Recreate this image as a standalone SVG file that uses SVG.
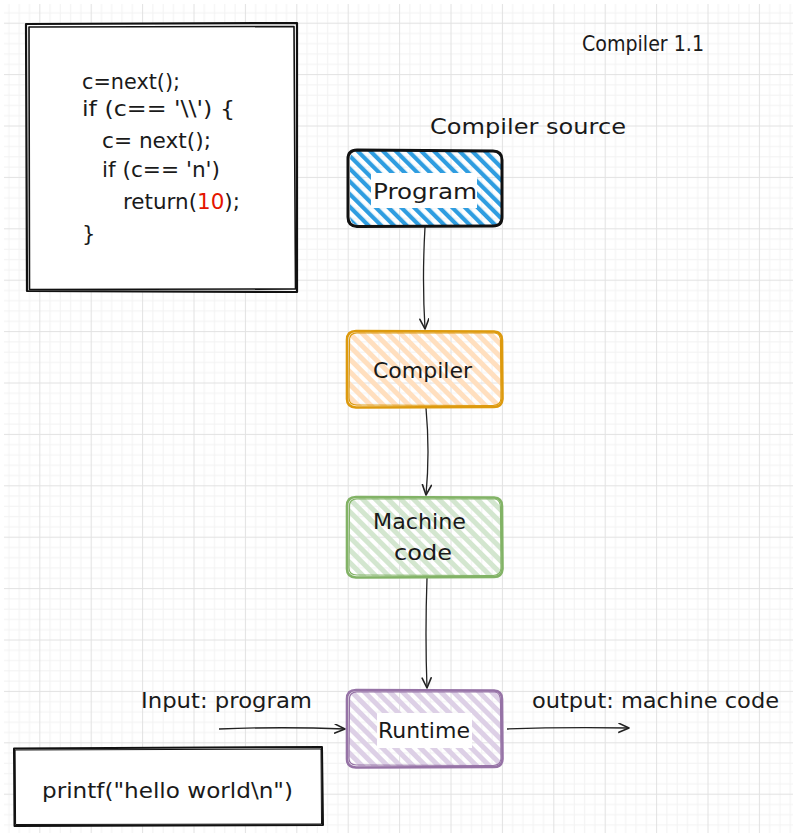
<svg xmlns="http://www.w3.org/2000/svg" width="793" height="838" viewBox="0 0 793 838">
<defs>
  <pattern id="grid" patternUnits="userSpaceOnUse" x="39.3" y="22.7" width="51.4" height="51.4">
    <rect x="0" y="0" width="51.4" height="51.4" fill="#ffffff"/>
    <g fill="#f3f3f3">
      <rect x="10.28" y="0" width="1" height="51.4"/>
      <rect x="20.56" y="0" width="1" height="51.4"/>
      <rect x="30.84" y="0" width="1" height="51.4"/>
      <rect x="41.12" y="0" width="1" height="51.4"/>
      <rect x="0" y="10.28" width="51.4" height="1"/>
      <rect x="0" y="20.56" width="51.4" height="1"/>
      <rect x="0" y="30.84" width="51.4" height="1"/>
      <rect x="0" y="41.12" width="51.4" height="1"/>
    </g>
    <g fill="#e2e2e2">
      <rect x="0" y="0" width="1" height="51.4"/>
      <rect x="0" y="0" width="51.4" height="1"/>
    </g>
  </pattern>
  <pattern id="hBlue" patternUnits="userSpaceOnUse" width="9" height="9" patternTransform="rotate(-45)">
    <rect x="0" y="0" width="4.2" height="9" fill="#2f9de0"/>
  </pattern>
  <pattern id="hOrange" patternUnits="userSpaceOnUse" width="9" height="9" patternTransform="rotate(-45)">
    <rect x="0" y="0" width="5" height="9" fill="#ffdfbf"/>
  </pattern>
  <pattern id="hGreen" patternUnits="userSpaceOnUse" width="9" height="9" patternTransform="rotate(-45)">
    <rect x="0" y="0" width="5" height="9" fill="#d3e6cf"/>
  </pattern>
  <pattern id="hPurple" patternUnits="userSpaceOnUse" width="9" height="9" patternTransform="rotate(-45)">
    <rect x="0" y="0" width="5" height="9" fill="#ddd0e6"/>
  </pattern>
  <marker id="arr" markerUnits="userSpaceOnUse" markerWidth="14" markerHeight="12" refX="11" refY="5" orient="auto" viewBox="0 0 14 12">
    <path d="M1,0.5 L11,5 L1,9.5" fill="none" stroke="#222222" stroke-width="1.6" stroke-linejoin="round" stroke-linecap="round"/>
  </marker>
  <style>
    text { font-family: "DejaVu Sans", "Liberation Sans", sans-serif; fill: #1a1a1a; }
    .lbl { font-size: 22px; }
    .code { font-size: 21px; }
    .edge { fill: none; stroke: #222222; stroke-width: 1.3; marker-end: url(#arr); }
    .rough { fill: none; stroke-linecap: round; stroke-linejoin: round; }
  </style>
</defs>

<rect x="0" y="0" width="793" height="838" fill="#ffffff"/>
<rect x="4" y="4" width="789" height="829" fill="url(#grid)"/>

<g id="title">
  <text class="lbl" x="582" y="51" textLength="122" lengthAdjust="spacingAndGlyphs">Compiler 1.1</text>
</g>

<g id="code-box">
  <rect x="27" y="24" width="270" height="268" fill="#ffffff"/>
  <path class="rough" stroke="#111111" stroke-width="2.2" d="M26,24 L297,23 L297,292 L27,291 Z"/>
  <path class="rough" stroke="#111111" stroke-width="1.6" d="M29,27 L294,26.5 L295.5,289 L29.5,289.5 Z"/>
  <text class="code" x="82" y="89" textLength="98" lengthAdjust="spacingAndGlyphs">c=next();</text>
  <text class="code" x="82" y="116" textLength="153" lengthAdjust="spacingAndGlyphs">if (c== '\\') {</text>
  <text class="code" x="102" y="148" textLength="109" lengthAdjust="spacingAndGlyphs">c= next();</text>
  <text class="code" x="102" y="177" textLength="118" lengthAdjust="spacingAndGlyphs">if (c== 'n')</text>
  <text class="code" x="123" y="209" textLength="117" lengthAdjust="spacingAndGlyphs">return(<tspan fill="#e51400" style="fill:#e51400">10</tspan>);</text>
  <text class="code" x="82" y="241">}</text>
</g>

<g id="compiler-source-label">
  <text class="lbl" x="430" y="134" textLength="196" lengthAdjust="spacingAndGlyphs">Compiler source</text>
</g>

<g id="connectors">
  <path class="edge" d="M425,227 Q422,280 425,329"/>
  <path class="edge" d="M426,408 Q430,452 426,495"/>
  <path class="edge" d="M427,578 Q425,634 427,688"/>
  <path class="edge" d="M219,729 Q282,726.5 345,729"/>
  <path class="edge" d="M507,729 Q562,727 629,728"/>
</g>

<g id="node-program">
  <rect x="350" y="151" width="151" height="74" rx="8" fill="url(#hBlue)"/>
  <path class="rough" stroke="#111111" stroke-width="3" d="M357,150 L493,151 Q502,151 502,160 L502,217 Q502,226 493,226 L357,226.5 Q348,226 348,217 L348,159 Q348,150 357,150 Z"/>
  <rect x="371" y="173" width="106" height="35" fill="#ffffff"/>
  <text class="lbl" x="373" y="199" textLength="104" lengthAdjust="spacingAndGlyphs">Program</text>
</g>

<g id="node-compiler">
  <rect x="349" y="332" width="152" height="74" rx="8" fill="url(#hOrange)"/>
  <path class="rough" stroke="#dd9a0e" stroke-width="2.6" d="M356,331 L494,331.5 Q502,332 502,340 L502.5,399 Q502,407 494,407 L356,407.5 Q347,407 347,399 L347,340 Q347,331 356,331 Z"/>
  <path class="rough" stroke="#dd9a0e" stroke-width="1.2" d="M357,333 L495,333 Q501,334 500.5,342 L501,398 Q501,405 493,405.5 L357,405 Q349,405 349,398 L349.5,341 Q349,333 357,333 Z"/>
  <text class="lbl" x="373" y="378" textLength="99" lengthAdjust="spacingAndGlyphs">Compiler</text>
</g>

<g id="node-machine-code">
  <rect x="349" y="498" width="152" height="78" rx="8" fill="url(#hGreen)"/>
  <path class="rough" stroke="#82b366" stroke-width="2.6" d="M356,497 L494,497.5 Q502,498 502,506 L502.5,569 Q502,577 494,577 L356,577.5 Q347,577 347,569 L347,506 Q347,497 356,497 Z"/>
  <path class="rough" stroke="#82b366" stroke-width="1.2" d="M357,499 L495,499 Q500.5,500 500.5,508 L501,568 Q501,575 493,575.5 L357,575 Q349,575 349,568 L349.5,507 Q349,499 357,499 Z"/>
  <text class="lbl" x="373" y="529" textLength="93" lengthAdjust="spacingAndGlyphs">Machine</text>
  <text class="lbl" x="394" y="560" textLength="58" lengthAdjust="spacingAndGlyphs">code</text>
</g>

<g id="node-runtime">
  <rect x="349" y="691" width="152" height="75" rx="8" fill="url(#hPurple)"/>
  <path class="rough" stroke="#9673a6" stroke-width="2.6" d="M356,690 L494,690.5 Q502,691 502,699 L502.5,759 Q502,767 494,767 L356,767.5 Q347,767 347,759 L347,699 Q347,690 356,690 Z"/>
  <path class="rough" stroke="#9673a6" stroke-width="1.2" d="M357,692 L495,692 Q500.5,693 500.5,701 L501,758 Q501,765 493,765.5 L357,765 Q349,765 349,758 L349.5,700 Q349,692 357,692 Z"/>
  <rect x="377" y="713" width="95" height="35" fill="#ffffff"/>
  <text class="lbl" x="378" y="738" textLength="92" lengthAdjust="spacingAndGlyphs">Runtime</text>
</g>

<g id="input-label">
  <text class="lbl" x="141" y="708" textLength="171" lengthAdjust="spacingAndGlyphs">Input: program</text>
</g>

<g id="output-label">
  <text class="lbl" x="532" y="708" textLength="247" lengthAdjust="spacingAndGlyphs">output: machine code</text>
</g>

<g id="printf-box">
  <rect x="14" y="748" width="309" height="77" fill="#ffffff"/>
  <path class="rough" stroke="#111111" stroke-width="2" d="M14,748.5 L322,747 L323,825 L14.5,826 Z"/>
  <path class="rough" stroke="#111111" stroke-width="1" d="M15.5,750 L321,749 L321.5,824 L16,824.5 Z"/>
  <text class="lbl" x="42" y="798" textLength="251" lengthAdjust="spacingAndGlyphs">printf("hello world\n")</text>
</g>
</svg>
